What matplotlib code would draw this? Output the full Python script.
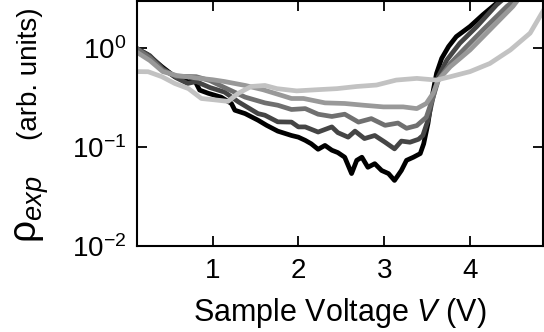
import matplotlib
matplotlib.use("Agg")
import matplotlib.pyplot as plt
from matplotlib.ticker import FixedLocator, NullLocator, LogFormatterSciNotation

plt.rcParams['font.family'] = ['Liberation Sans', 'DejaVu Sans']
plt.rcParams['mathtext.fontset'] = 'custom'
plt.rcParams['mathtext.rm'] = 'Liberation Sans'
plt.rcParams['mathtext.it'] = 'Liberation Sans:italic'
plt.rcParams['mathtext.bf'] = 'Liberation Sans:bold'

# ---- data ----
v_black = [0.11, 0.25, 0.41, 0.56, 0.72, 0.79, 0.85, 0.95, 1.10, 1.22, 1.26, 1.38, 1.53, 1.63,
           1.76, 1.92, 2.00, 2.08, 2.15, 2.23, 2.31, 2.39, 2.46, 2.54, 2.62, 2.68, 2.74, 2.81, 2.89,
           2.97, 3.05, 3.12, 3.20, 3.26, 3.34, 3.42, 3.46, 3.51, 3.55, 3.61, 3.67, 3.75, 3.84,
           4.00, 4.15, 4.36]
r_black = [1.00, 0.855, 0.65, 0.515, 0.458, 0.476, 0.377, 0.35, 0.32, 0.276, 0.236, 0.218, 0.187, 0.166,
           0.145, 0.131, 0.126, 0.117, 0.108, 0.095, 0.104, 0.093, 0.088, 0.079, 0.054, 0.0735, 0.079, 0.0625, 0.068,
           0.058, 0.054, 0.046, 0.058, 0.0735, 0.079, 0.086, 0.108, 0.173, 0.298, 0.557, 0.79, 1.04, 1.31,
           1.66, 2.18, 3.1]

v_dark = [0.11, 0.27, 0.42, 0.58, 0.71, 0.81, 0.97, 1.14, 1.30, 1.53, 1.61, 1.76, 1.92, 2.00, 2.08,
          2.23, 2.39, 2.46, 2.58, 2.66, 2.77, 2.89, 3.01, 3.12, 3.20, 3.30, 3.40, 3.45, 3.51, 3.57,
          3.63, 3.73, 3.88, 4.08, 4.31, 4.38]
r_dark = [1.00, 0.84, 0.62, 0.50, 0.44, 0.46, 0.40, 0.36, 0.287, 0.218, 0.21, 0.18, 0.179, 0.16, 0.16,
          0.142, 0.160, 0.140, 0.126, 0.145, 0.122, 0.131, 0.112, 0.096, 0.115, 0.112, 0.120, 0.131, 0.187, 0.322,
          0.515, 0.76, 1.12, 1.66, 2.75, 3.1]

v_mid = [0.11, 0.27, 0.42, 0.58, 0.81, 0.97, 1.14, 1.38, 1.61, 1.76, 1.92, 2.08, 2.23, 2.39, 2.54,
         2.70, 2.85, 3.01, 3.16, 3.26, 3.38, 3.49, 3.57, 3.63, 3.77, 3.96, 4.15, 4.43, 4.53]
r_mid = [1.00, 0.80, 0.60, 0.52, 0.515, 0.47, 0.40, 0.32, 0.28, 0.265, 0.24, 0.245, 0.215, 0.204, 0.215,
         0.179, 0.194, 0.166, 0.175, 0.155, 0.165, 0.200, 0.32, 0.476, 0.70, 1.04, 1.53, 2.65, 3.1]

v_gray = [0.11, 0.27, 0.42, 0.58, 0.81, 1.00, 1.14, 1.38, 1.59, 1.82, 1.92, 2.06, 2.31, 2.54, 2.76, 2.99,
          3.22, 3.38, 3.49, 3.57, 3.63, 3.77, 4.00, 4.23, 4.50, 4.56]
r_gray = [0.92, 0.75, 0.58, 0.53, 0.50, 0.48, 0.46, 0.42, 0.38, 0.33, 0.31, 0.31, 0.28, 0.276, 0.265, 0.255,
          0.255, 0.245, 0.276, 0.35, 0.476, 0.65, 0.96, 1.53, 2.65, 3.1]

v_light = [0.11, 0.25, 0.41, 0.56, 0.72, 0.87, 1.03, 1.18, 1.30, 1.45, 1.61, 1.75, 1.98, 2.21, 2.45, 2.68, 2.91,
           3.14, 3.38, 3.61, 3.77, 4.00, 4.23, 4.47, 4.70, 4.86]
r_light = [0.58, 0.578, 0.515, 0.44, 0.39, 0.31, 0.30, 0.29, 0.35, 0.41, 0.42, 0.39, 0.37, 0.38, 0.39, 0.41, 0.424,
           0.476, 0.495, 0.476, 0.515, 0.58, 0.70, 0.96, 1.42, 2.45]

series = [
    (v_black, r_black, '#000000'),
    (v_dark, r_dark, '#454545'),
    (v_mid, r_mid, '#707070'),
    (v_gray, r_gray, '#999999'),
    (v_light, r_light, '#c2c2c2'),
]

x_ticks = [1, 2, 3, 4]
y_ticks = [1e-2, 1e-1, 1e0]

fig = plt.figure(figsize=(5.44, 3.32), dpi=100)
ax = fig.add_axes([137/544, 1 - 246/332, 406/544, 245/332])

for v, r, c in series:
    ax.plot(v, r, color=c, lw=3.4, solid_joinstyle='round', solid_capstyle='round')

ax.set_yscale('log')
ax.set_xlim(0.12, 4.85)
ax.set_ylim(1e-2, 3.0)
ax.xaxis.set_major_locator(FixedLocator(x_ticks))
ax.yaxis.set_major_locator(FixedLocator(y_ticks))
ax.yaxis.set_minor_locator(NullLocator())
ax.xaxis.set_minor_locator(NullLocator())
ax.yaxis.set_major_formatter(LogFormatterSciNotation())
ax.set_xticklabels([str(t) for t in x_ticks])
ax.tick_params(direction='in', length=7, width=1.3, top=True, right=True, labelsize=20)
ax.tick_params(axis='x', pad=9)
ax.tick_params(axis='y', pad=8)
for s in ax.spines.values():
    s.set_linewidth(1.5)

ax.set_xlabel('Sample Voltage $\\mathit{V}$ (V)', fontsize=22, labelpad=8)

fig.text(37/544, 1 - 243/332, 'ρ$_{\\mathit{exp}}$', rotation=90, fontsize=28,
         ha='left', va='baseline', rotation_mode='anchor')
fig.text(37/544, 1 - 140/332, '(arb. units)', rotation=90, fontsize=20,
         ha='left', va='baseline', rotation_mode='anchor')

fig.savefig('out.png', dpi=100)
